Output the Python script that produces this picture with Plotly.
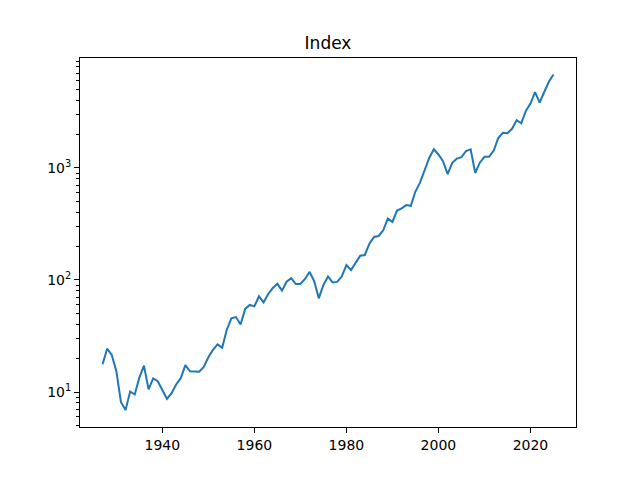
import plotly.graph_objects as go

years = list(range(1927, 2026))
index_values = [
    17.66, 24.35, 21.45, 15.34, 8.12, 6.89, 10.10, 9.50, 13.43, 17.18,
    10.55, 13.21, 12.49, 10.58, 8.69, 9.77, 11.67, 13.28, 17.36, 15.30,
    15.30, 15.20, 16.76, 20.41, 23.77, 26.57, 24.81, 35.98, 45.48, 46.67,
    39.99, 55.21, 59.89, 58.11, 71.55, 63.10, 75.02, 84.75, 92.43, 80.33,
    96.47, 103.86, 92.06, 92.15, 102.09, 118.05, 97.55, 68.56, 90.19, 107.46,
    95.10, 96.11, 107.94, 135.76, 122.55, 140.64, 164.93, 167.24, 211.28, 242.17,
    247.08, 277.72, 353.40, 330.22, 417.09, 435.71, 466.45, 459.27, 615.93, 740.74,
    970.43, 1229.23, 1469.25, 1320.28, 1148.08, 879.82, 1111.92, 1211.92, 1248.29, 1418.30,
    1468.36, 903.25, 1115.10, 1257.64, 1257.60, 1426.19, 1848.36, 2058.90, 2043.94, 2238.83,
    2673.61, 2506.85, 3230.78, 3756.07, 4766.18, 3839.50, 4769.83, 5881.63, 6845.50,
]
x_ticks = [1940, 1960, 1980, 2000, 2020]
y_ticks = [10, 100, 1000]
y_tick_labels = ["10<sup>1</sup>", "10<sup>2</sup>", "10<sup>3</sup>"]
title_text = "Index"

fig = go.Figure()
fig.add_trace(go.Scatter(x=years, y=index_values, mode="lines",
                         line=dict(color="#1f77b4", width=2), showlegend=False))

font = "DejaVu Sans"
fig.update_layout(
    width=640, height=480,
    margin=dict(l=72, r=72, t=50, b=61),
    paper_bgcolor="white", plot_bgcolor="white",
    font=dict(family=font, size=14, color="black"),
    title=dict(text=title_text, x=(328 - 8) / 640, xanchor="center", y=1 - 35 / 480, yanchor="middle",
               font=dict(family=font, size=17, color="black")),
)
fig.update_xaxes(
    range=[1922.1, 2029.9], tickvals=x_ticks, showgrid=False, zeroline=False,
    showline=True, linecolor="black", linewidth=1, mirror=True,
    ticks="outside", ticklen=5, tickwidth=1, tickcolor="black",
)
fig.update_yaxes(
    type="log", range=[0.6875, 3.982], tickvals=y_ticks, ticktext=y_tick_labels,
    showgrid=False, zeroline=False,
    showline=True, linecolor="black", linewidth=1, mirror=True,
    ticks="outside", ticklen=5, tickwidth=1, tickcolor="black",
    minor=dict(ticks="outside", ticklen=3, tickwidth=1, tickcolor="black", dtick="D1", showgrid=False),
)
fig.write_html("out.html")
